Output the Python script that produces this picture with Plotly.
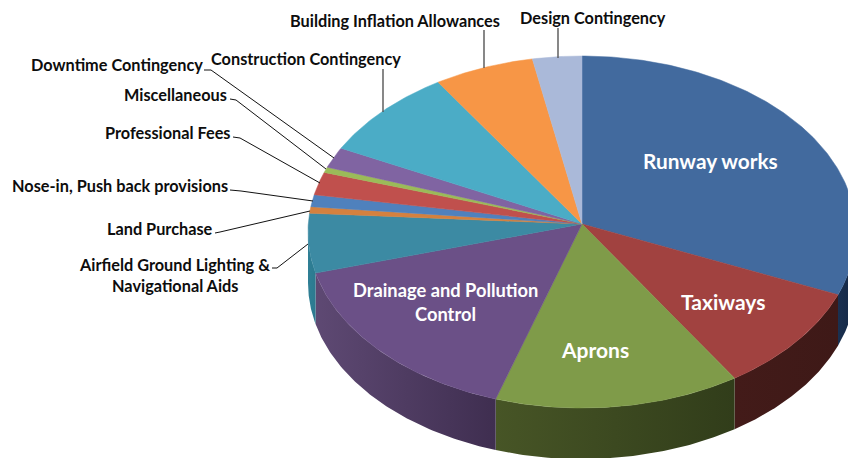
import numpy as np
import plotly.graph_objects as go

# ---------- data ----------
categories = ["Runway works", "Taxiways", "Aprons", "Drainage and Pollution Control",
              "Airfield Ground Lighting & Navigational Aids", "Land Purchase",
              "Nose-in, Push back provisions", "Professional Fees", "Miscellaneous",
              "Downtime Contingency", "Construction Contingency",
              "Building Inflation Allowances", "Design Contingency"]
shares = [30.8, 9.8, 14.5, 16.15, 5.45, 0.6, 1.1, 2.1, 0.5, 1.9, 8.3, 5.9, 2.9]

# ---------- style ----------
top_colors = ["#426a9e", "#a14240", "#7f9b49", "#6b5087", "#3c8aa3", "#d4813f", "#4f81bd",
              "#c0504d", "#9bbb59", "#8064a2", "#4bacc6", "#f79646", "#aab9d9"]
side_colors = {0: ("#1a3050", "#142743"), 1: ("#431b19", "#3e1917"), 2: ("#475526", "#313d1a"),
               3: ("#5e4973", "#3f2e50"), 4: ("#2f7f95", "#2c7a8f")}
CX, CY, RX, RY, DEPTH = 582, 232, 274, 176, 51
APEX = (582, 224)

def rim(t, dy=0):
    return CX + RX * np.sin(t), CY - RY * np.cos(t) + dy

fig = go.Figure()
edges = np.radians(np.concatenate([[0], np.cumsum(shares)]) * 360 / sum(shares))

# side walls
for i, (c1, c2) in side_colors.items():
    a, b = max(edges[i], np.pi / 2), min(edges[i + 1], 3 * np.pi / 2)
    t = np.linspace(a, b, 80)
    x1, y1 = rim(t)
    x2, y2 = rim(t[::-1], DEPTH)
    xs = np.concatenate([x1, x2, x1[:1]])
    ys = np.concatenate([y1, y2, y1[:1]])
    left, right = (c1, c2)
    fig.add_trace(go.Scatter(
        x=xs, y=ys, mode="lines", fill="toself", line=dict(width=0), hoverinfo="skip",
        fillgradient=dict(type="horizontal", colorscale=[[0, left], [1, right]],
                          start=float(xs.min()), stop=float(xs.max()))))

# top wedges
for i, name in enumerate(categories):
    t = np.linspace(edges[i], edges[i + 1], max(4, int(shares[i] * 6)))
    x, y = rim(t)
    fig.add_trace(go.Scatter(
        x=np.concatenate([[APEX[0]], x, [APEX[0]]]), y=np.concatenate([[APEX[1]], y, [APEX[1]]]),
        mode="lines", fill="toself", fillcolor=top_colors[i],
        line=dict(color=top_colors[i], width=0.5), name=name, hoverinfo="name"))

# leader lines
leaders = [
    ([484, 484], [30, 68], "#555555", 1.4),
    ([558, 558], [28, 58], "#555555", 1.4),
    ([383, 383], [69, 112], "#555555", 1.4),
    ([204, 211, 334], [70, 70, 158], "#111111", 1),
    ([230, 236, 326], [99, 100, 169], "#111111", 1),
    ([233, 240, 320], [137, 138, 183], "#111111", 1),
    ([230, 241, 313], [190, 191, 201], "#111111", 1),
    ([215, 220, 310], [233, 232, 211], "#111111", 1),
    ([272, 277, 308], [268, 268, 244], "#111111", 1),
]
for lx, ly, c, w in leaders:
    fig.add_trace(go.Scatter(x=lx, y=ly, mode="lines", line=dict(color=c, width=w), hoverinfo="skip"))

# text
FONT = "Lato, Carlito, Calibri, sans-serif"
outer = [("Building Inflation Allowances", 394.5, 20), ("Design Contingency", 593, 17),
         ("Construction Contingency", 305.5, 58), ("Downtime Contingency", 117, 64),
         ("Miscellaneous", 175.5, 94), ("Professional Fees", 168, 132),
         ("Nose-in, Push back provisions", 119.5, 185), ("Land Purchase", 160, 228),
         ("Airfield Ground Lighting &", 174.5, 264), ("Navigational Aids", 174.5, 285)]
inner = [("Runway works", 710, 160, 20.8), ("Taxiways", 723, 301, 21), ("Aprons", 595, 349, 21),
         ("Drainage and Pollution", 445.5, 290, 18.3), ("Control", 445.5, 314, 18.3)]
anns = [dict(x=x, y=y, text=f"<b>{s}</b>", showarrow=False, xanchor="center", yanchor="middle",
             font=dict(family=FONT, size=16.3, color="#0d0d0d")) for s, x, y in outer]
anns += [dict(x=x, y=y, text=f"<b>{s}</b>", showarrow=False, xanchor="center", yanchor="middle",
              font=dict(family=FONT, size=sz, color="#ffffff")) for s, x, y, sz in inner]

fig.update_layout(
    width=848, height=458, margin=dict(l=0, r=0, t=0, b=0), showlegend=False,
    paper_bgcolor="white", plot_bgcolor="white", annotations=anns,
    xaxis=dict(range=[0, 848], visible=False, fixedrange=True),
    yaxis=dict(range=[458, 0], visible=False, fixedrange=True),
)
fig.write_html("out.html", config={"displayModeBar": False},
               post_script="document.body.style.margin='0';document.documentElement.style.overflow='hidden';")
